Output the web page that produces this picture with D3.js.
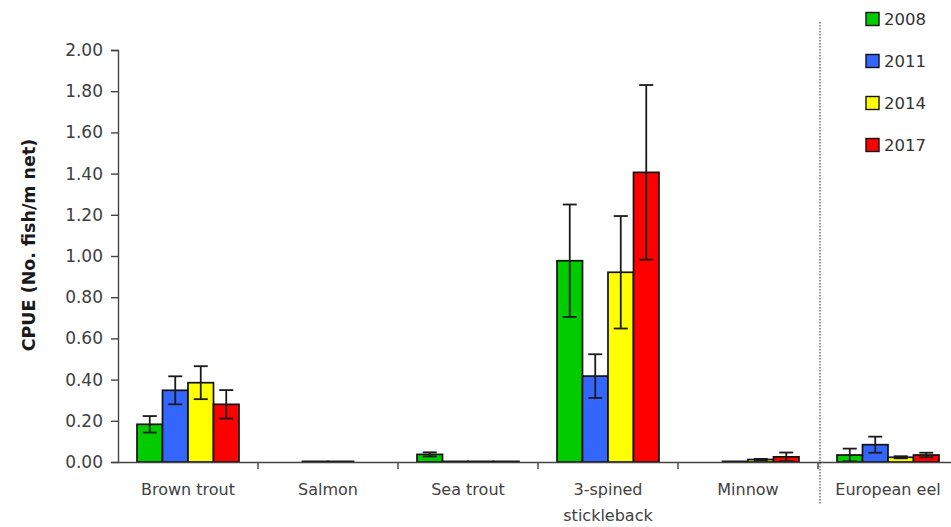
<!DOCTYPE html>
<html>
<head>
<meta charset="utf-8">
<script src="https://cdn.jsdelivr.net/npm/d3@7"></script>
<style>
  body { margin: 0; background: #fff; }
  svg { display: block; }
</style>
</head>
<body>
<div id="chart"></div>
<script>
var species = ["Brown trout", "Salmon", "Sea trout", "3-spined stickleback", "Minnow", "European eel"];
var years = ["2008", "2011", "2014", "2017"];
var colours = ["#00cc00", "#3366ff", "#ffff00", "#ff0000"];

// CPUE per species, one array per survey year
var cpue2008 = [0.183, 0, 0.037, 0.977, 0, 0.034];
var cpue2011 = [0.348, 0.003, 0.003, 0.417, 0.003, 0.084];
var cpue2014 = [0.385, 0.003, 0.003, 0.921, 0.012, 0.023];
var cpue2017 = [0.280, 0, 0.003, 1.406, 0.025, 0.034];

// error bar half widths
var err2008 = [0.040, 0, 0.010, 0.273, 0, 0.031];
var err2011 = [0.068, 0, 0, 0.106, 0, 0.039];
var err2014 = [0.080, 0, 0, 0.273, 0.003, 0.005];
var err2017 = [0.069, 0, 0, 0.424, 0.021, 0.011];

var yTicks = [0, 0.2, 0.4, 0.6, 0.8, 1.0, 1.2, 1.4, 1.6, 1.8, 2.0];

var values = [cpue2008, cpue2011, cpue2014, cpue2017];
var errors = [err2008, err2011, err2014, err2017];

var w = 951, h = 527;
var font = "DejaVu Sans, sans-serif";

var svg = d3.select("#chart").append("svg")
    .attr("width", w)
    .attr("height", h);

var x = d3.scaleBand()
    .domain(species)
    .range([118, 958]);

var xSub = d3.scaleBand()
    .domain(years)
    .range([19, x.bandwidth() - 19]);

var y = d3.scaleLinear()
    .domain([0, 2])
    .range([462, 50]);

// flatten into one row per bar
var bars = [];
species.forEach(function (s, i) {
    years.forEach(function (yr, j) {
        bars.push({ species: s, year: yr, value: values[j][i], err: errors[j][i], colour: colours[j] });
    });
});

// Y axis
var yAxis = d3.axisLeft(y)
    .tickValues(yTicks)
    .tickFormat(d3.format(".2f"))
    .tickSize(7)
    .tickPadding(8);

var gy = svg.append("g")
    .attr("transform", "translate(118,0)")
    .call(yAxis);
gy.select(".domain").attr("stroke", "#444").attr("stroke-width", 1.4);
gy.selectAll(".tick line").attr("stroke", "#444").attr("stroke-width", 1.4);
gy.selectAll(".tick text")
    .attr("fill", "#404040")
    .style("font-family", font)
    .style("font-size", "17px");

svg.append("text")
    .attr("transform", "translate(29,245) rotate(-90)")
    .attr("text-anchor", "middle")
    .attr("dominant-baseline", "central")
    .style("font-family", font)
    .style("font-size", "17.5px")
    .style("font-weight", "bold")
    .attr("fill", "#1a1a1a")
    .text("CPUE (No. fish/m net)");

// bars
svg.append("g")
    .selectAll("rect")
    .data(bars)
    .enter()
    .append("rect")
    .attr("x", function (d) { return x(d.species) + xSub(d.year); })
    .attr("y", function (d) { return y(d.value); })
    .attr("width", xSub.bandwidth())
    .attr("height", function (d) { return y(0) - y(d.value); })
    .attr("fill", function (d) { return d.colour; })
    .attr("stroke", "#111")
    .attr("stroke-width", 1.7);

// error bars
var errBars = bars.filter(function (d) { return d.err > 0; });
var eg = svg.append("g").attr("stroke", "#1a1a1a").attr("stroke-width", 1.8);
errBars.forEach(function (d) {
    var cx = x(d.species) + xSub(d.year) + xSub.bandwidth() / 2;
    var lo = y(Math.max(0, d.value - d.err));
    var hi = y(d.value + d.err);
    eg.append("line").attr("x1", cx).attr("x2", cx).attr("y1", lo).attr("y2", hi);
    eg.append("line").attr("x1", cx - 7).attr("x2", cx + 7).attr("y1", hi).attr("y2", hi);
    eg.append("line").attr("x1", cx - 7).attr("x2", cx + 7).attr("y1", lo).attr("y2", lo);
});

// X axis
var xAxis = d3.axisBottom(x).tickSize(0).tickPadding(22);
var gx = svg.append("g")
    .attr("transform", "translate(0,462)")
    .call(xAxis);
gx.select(".domain").attr("stroke", "#444").attr("stroke-width", 1.4);
gx.selectAll(".tick text")
    .attr("fill", "#404040")
    .style("font-family", font)
    .style("font-size", "16px")
    .each(function (d) {
        var t = d3.select(this);
        if (d === "3-spined stickleback") {
            t.text(null);
            t.append("tspan").attr("x", 0).attr("dy", "0.71em").text("3-spined");
            t.append("tspan").attr("x", 0).attr("dy", "1.6em").text("stickleback");
        }
    });

// boundary ticks between categories
svg.append("g")
    .selectAll("line")
    .data(species.slice(1))
    .enter()
    .append("line")
    .attr("x1", function (d) { return x(d); })
    .attr("x2", function (d) { return x(d); })
    .attr("y1", 462)
    .attr("y2", 469)
    .attr("stroke", "#444")
    .attr("stroke-width", 1.4);

// dotted separator before European eel
svg.append("line")
    .attr("x1", x("European eel") + 2)
    .attr("x2", x("European eel") + 2)
    .attr("y1", 22)
    .attr("y2", 505)
    .attr("stroke", "#666")
    .attr("stroke-width", 1.4)
    .attr("stroke-dasharray", "1.5,1.5");

// legend
var legend = svg.append("g").attr("transform", "translate(866,0)");
years.forEach(function (yr, i) {
    var cy = 19 + i * 42;
    legend.append("rect")
        .attr("x", 0).attr("y", cy - 6.5)
        .attr("width", 13).attr("height", 13)
        .attr("fill", colours[i])
        .attr("stroke", "#111")
        .attr("stroke-width", 1.4);
    legend.append("text")
        .attr("x", 18).attr("y", cy)
        .attr("dominant-baseline", "central")
        .attr("fill", "#333")
        .style("font-family", font)
        .style("font-size", "16.5px")
        .text(yr);
});
</script>
</body>
</html>
